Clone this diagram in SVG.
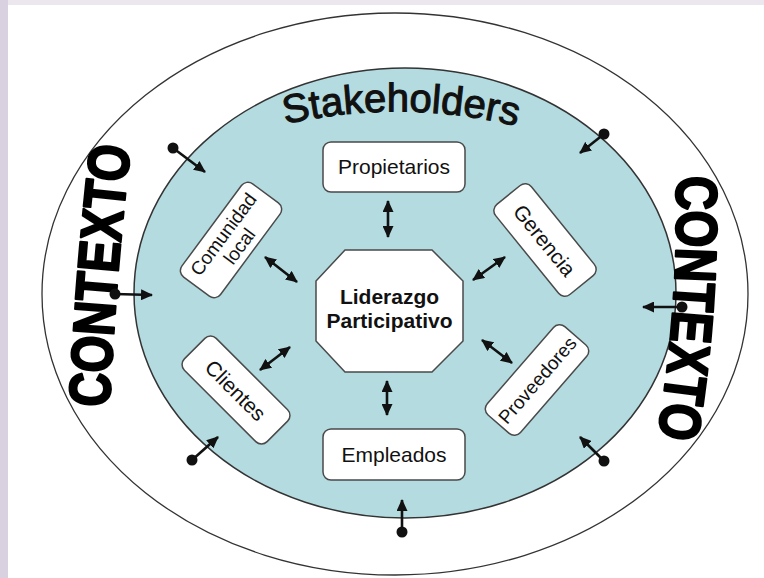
<svg xmlns="http://www.w3.org/2000/svg" width="764" height="578" viewBox="0 0 764 578">
<defs>
<style>
.box{fill:#fff;stroke:#4a4a4a;stroke-width:1.5}
.lbl{font-family:"Liberation Sans",Arial,sans-serif;fill:#111;text-anchor:middle}
.ctx{font-family:"Liberation Sans",Arial,sans-serif;font-weight:bold;font-size:58px;fill:#000;stroke:#000;stroke-width:2.4;stroke-linejoin:round}
.arr{stroke:#111;stroke-width:2.6;fill:none}
</style>
<marker id="ah" viewBox="0 0 12 11" refX="11" refY="5.5" markerWidth="12" markerHeight="11" markerUnits="userSpaceOnUse" orient="auto-start-reverse">
<path d="M0,0 L12,5.5 L0,11 z" fill="#111"/>
</marker>
<marker id="dot" viewBox="0 0 12 12" refX="6" refY="6" markerWidth="12" markerHeight="12" markerUnits="userSpaceOnUse">
<circle cx="6" cy="6" r="5.5" fill="#111"/>
</marker>
<path id="pL" d="M 109 412 Q 115 280 131 142"/>
<path id="pR" d="M 676 168 Q 680 310 656 445"/>
<path id="pS" d="M 282 125 Q 400 97 520 127"/>
</defs>
<rect x="0" y="0" width="764" height="578" fill="#fff"/>
<rect x="0" y="0" width="8" height="578" fill="#d9d0e0"/>
<rect x="8" y="0" width="756" height="5" fill="#ece6ef"/>
<g id="outer">
<ellipse cx="395" cy="294" rx="353" ry="281" fill="#fff" stroke="#333" stroke-width="1.3"/>
</g>
<g id="inner">
<ellipse cx="405" cy="293" rx="271" ry="225" fill="#b3dbe0" stroke="#333" stroke-width="1.5"/>
</g>
<g id="contexto-left">
<text class="ctx"><textPath href="#pL" startOffset="50%" text-anchor="middle" textLength="262" lengthAdjust="spacingAndGlyphs">CONTEXTO</textPath></text>
</g>
<g id="contexto-right">
<text class="ctx"><textPath href="#pR" startOffset="50%" text-anchor="middle" textLength="262" lengthAdjust="spacingAndGlyphs">CONTEXTO</textPath></text>
</g>
<g id="stakeholders">
<text class="lbl" style="font-size:40px;stroke:#111;stroke-width:1.1"><textPath href="#pS" startOffset="50%" text-anchor="middle">Stakeholders</textPath></text>
</g>
<g id="liderazgo">
<polygon class="box" points="345,250 432,250 463,281 463,341 432,372 345,372 316,341 316,281"/>
<text class="lbl" x="389.5" y="304" style="font-size:21px;font-weight:bold">Liderazgo</text>
<text class="lbl" x="389.5" y="328" style="font-size:21px;font-weight:bold">Participativo</text>
</g>
<g id="propietarios">
<rect class="box" x="323" y="142" width="142" height="50" rx="8"/>
<text class="lbl" x="394" y="174" style="font-size:21px">Propietarios</text>
</g>
<g id="empleados">
<rect class="box" x="323" y="429" width="142" height="51" rx="8"/>
<text class="lbl" x="394" y="462" style="font-size:21px">Empleados</text>
</g>
<g id="comunidad" transform="translate(231,240) rotate(-53.5)">
<rect class="box" x="-58" y="-24" width="116" height="48" rx="8"/>
<text class="lbl" x="0" y="-3" style="font-size:19px">Comunidad</text>
<text class="lbl" x="0" y="17" style="font-size:19px">local</text>
</g>
<g id="gerencia" transform="translate(545,240) rotate(51)">
<rect class="box" x="-58" y="-23" width="116" height="46" rx="8"/>
<text class="lbl" x="0" y="8" style="font-size:21px">Gerencia</text>
</g>
<g id="proveedores" transform="translate(537,380) rotate(-49)">
<rect class="box" x="-58.5" y="-22" width="117" height="44" rx="8"/>
<text class="lbl" x="0" y="7" style="font-size:19px">Proveedores</text>
</g>
<g id="clientes" transform="translate(236,390) rotate(45)">
<rect class="box" x="-58.5" y="-22.5" width="117" height="45" rx="8"/>
<text class="lbl" x="0" y="8" style="font-size:21px">Clientes</text>
</g>
<g id="connectors">
<line class="arr" x1="388" y1="201" x2="388" y2="237" marker-start="url(#ah)" marker-end="url(#ah)"/>
<line class="arr" x1="387" y1="381" x2="387" y2="415" marker-start="url(#ah)" marker-end="url(#ah)"/>
<line class="arr" x1="265" y1="257" x2="297" y2="282" marker-start="url(#ah)" marker-end="url(#ah)"/>
<line class="arr" x1="473" y1="280" x2="505" y2="257" marker-start="url(#ah)" marker-end="url(#ah)"/>
<line class="arr" x1="482" y1="340" x2="512" y2="363" marker-start="url(#ah)" marker-end="url(#ah)"/>
<line class="arr" x1="260" y1="370" x2="290" y2="347" marker-start="url(#ah)" marker-end="url(#ah)"/>
<line class="arr" x1="173" y1="148" x2="205" y2="172" marker-start="url(#dot)" marker-end="url(#ah)"/>
<line class="arr" x1="115" y1="294" x2="152" y2="295" marker-start="url(#dot)" marker-end="url(#ah)"/>
<line class="arr" x1="192" y1="460" x2="218" y2="437" marker-start="url(#dot)" marker-end="url(#ah)"/>
<line class="arr" x1="402" y1="532" x2="402" y2="500" marker-start="url(#dot)" marker-end="url(#ah)"/>
<line class="arr" x1="604" y1="461" x2="580" y2="437" marker-start="url(#dot)" marker-end="url(#ah)"/>
<line class="arr" x1="682" y1="307" x2="643" y2="307" marker-start="url(#dot)" marker-end="url(#ah)"/>
<line class="arr" x1="604" y1="134" x2="580" y2="153" marker-start="url(#dot)" marker-end="url(#ah)"/>
</g>
</svg>
